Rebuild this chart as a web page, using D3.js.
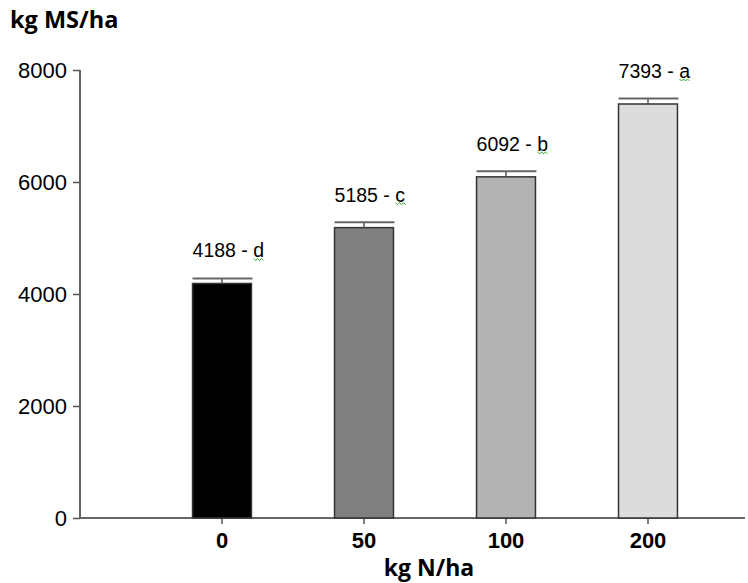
<!DOCTYPE html>
<html>
<head>
<meta charset="utf-8">
<script src="https://cdn.jsdelivr.net/npm/d3@7"></script>
<style>
  body { margin: 0; background: #fff; }
  svg { display: block; }
</style>
</head>
<body>
<svg></svg>
<script>
// doses of nitrogen, yield, standard error and letter of the mean test
var doses = ["0", "50", "100", "200"];
var yields = [4188, 5185, 6092, 7393];
var errors = [90, 95, 100, 100];
var letters = ["d", "c", "b", "a"];
var yTicks = [0, 2000, 4000, 6000, 8000];
var fills = ["#000000", "#808080", "#b3b3b3", "#dcdcdc"];

var width = 748, height = 583;
var margin = { left: 80, top: 70, bottom: 65, right: 3 };

var svg = d3.select("svg")
  .attr("width", width)
  .attr("height", height);

var y = d3.scaleLinear()
  .domain([0, 8000])
  .range([height - margin.bottom, margin.top]);

var x = d3.scaleBand()
  .domain(doses)
  .range([margin.left + 71, margin.left + 71 + 142 * doses.length])
  .paddingInner(0.585)
  .paddingOuter(0.2925);

var titleFont = "'Open Sans', 'Liberation Sans', sans-serif";
var font = "'Liberation Sans', Arial, sans-serif";

// y axis
var yAxis = svg.append("g")
  .attr("transform", "translate(" + margin.left + ",0)")
  .call(d3.axisLeft(y).tickValues(yTicks).tickFormat(d3.format("d")).tickSize(7).tickPadding(6));
yAxis.select(".domain").attr("stroke", "#666").attr("stroke-width", 2).attr("d", "M0," + y(8000) + "V" + y(0));
yAxis.selectAll(".tick line").attr("stroke", "#555").attr("stroke-width", 1.5);
yAxis.selectAll(".tick text")
  .attr("font-family", font)
  .attr("font-size", "22px")
  .attr("fill", "#000");

// x axis
var xAxis = svg.append("g")
  .attr("transform", "translate(0," + y(0) + ")")
  .call(d3.axisBottom(x).tickSize(6).tickPadding(8));
xAxis.select(".domain").attr("stroke", "#666").attr("stroke-width", 2).attr("d", "M" + margin.left + ",0H" + (width - margin.right));
xAxis.selectAll(".tick line").attr("stroke", "#555").attr("stroke-width", 1.5);
xAxis.selectAll(".tick text")
  .attr("font-family", font)
  .attr("font-weight", "bold")
  .attr("font-size", "22px")
  .attr("fill", "#000");

// bars
var groups = svg.selectAll("g.bar")
  .data(doses)
  .enter()
  .append("g")
  .attr("class", "bar");

groups.append("rect")
  .attr("x", d => x(d))
  .attr("y", (d, i) => y(yields[i]))
  .attr("width", x.bandwidth())
  .attr("height", (d, i) => y(0) - y(yields[i]))
  .attr("fill", (d, i) => fills[i])
  .attr("stroke", "#333")
  .attr("stroke-width", 1.5);

// error bars
groups.append("line")
  .attr("x1", d => x(d) + x.bandwidth() / 2)
  .attr("x2", d => x(d) + x.bandwidth() / 2)
  .attr("y1", (d, i) => y(yields[i]))
  .attr("y2", (d, i) => y(yields[i] + errors[i]))
  .attr("stroke", "#555")
  .attr("stroke-width", 1.5);

groups.append("line")
  .attr("x1", d => x(d))
  .attr("x2", d => x(d) + x.bandwidth() + 1)
  .attr("y1", (d, i) => y(yields[i] + errors[i]))
  .attr("y2", (d, i) => y(yields[i] + errors[i]))
  .attr("stroke", "#666")
  .attr("stroke-width", 2);

// value labels
groups.append("text")
  .attr("x", d => x(d))
  .attr("y", (d, i) => y(yields[i]) - 26)
  .attr("font-family", font)
  .attr("font-size", "19.5px")
  .attr("fill", "#000")
  .text((d, i) => yields[i] + " - " + letters[i]);

// green spell-check squiggle under the letter
groups.append("path")
  .attr("d", (d, i) => {
    var x0 = x(d) + 61, y0 = y(yields[i]) - 25, p = "M" + x0 + "," + y0;
    for (var k = 1; k <= 5; k++) p += "L" + (x0 + k * 2) + "," + (y0 + (k % 2 ? 2 : 0));
    return p;
  })
  .attr("fill", "none")
  .attr("stroke", "#3a3")
  .attr("stroke-width", 1);

// axis titles
svg.append("text")
  .attr("x", 10)
  .attr("y", 28)
  .attr("font-family", titleFont)
  .attr("font-weight", "bold")
  .attr("font-size", "23.5px")
  .text("kg MS/ha");

svg.append("text")
  .attr("x", 429)
  .attr("y", 576)
  .attr("text-anchor", "middle")
  .attr("font-family", titleFont)
  .attr("font-weight", "bold")
  .attr("font-size", "23px")
  .text("kg N/ha");
</script>
</body>
</html>
